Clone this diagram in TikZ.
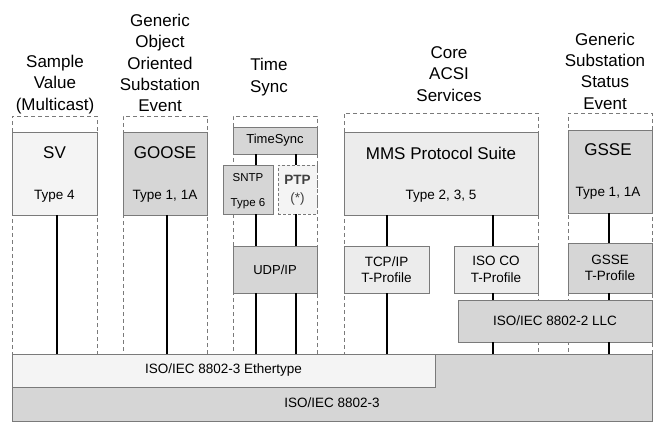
\documentclass[tikz,border=0pt]{standalone}
\usepackage{fontspec}
\setmainfont{Liberation Sans}
\usetikzlibrary{positioning}
\definecolor{darkfill}{HTML}{D6D6D6}
\definecolor{midfill}{HTML}{ECECEC}
\definecolor{palefill}{HTML}{F4F4F4}
\definecolor{edge}{HTML}{7A7A7A}

\begin{document}
\begin{tikzpicture}[x=1pt, y=-1pt,
  box/.style={draw=edge, line width=0.9pt, inner sep=0pt, align=center},
  column/.style={draw=edge, dashed, dash pattern=on 4pt off 3pt, line width=0.8pt, inner sep=0pt},
  head/.style={align=center, font=\fontsize{17}{21.3}\selectfont},
  big/.style={font=\fontsize{17}{20}\selectfont},
  small/.style={font=\fontsize{13.5}{16.5}\selectfont},
  tiny/.style={font=\fontsize{11.5}{13}\selectfont},
  wire/.style={line width=2pt, black}]
\useasboundingbox (0,0) rectangle (655,421);
% dashed columns
\node[column, minimum width=85pt, minimum height=238pt] (colsv) at (54.5,235) {};
\node[column, minimum width=84pt, minimum height=238pt] (colgoose) at (165,235) {};
\node[column, minimum width=84pt, minimum height=238pt] (coltime) at (275,235) {};
\node[column, minimum width=194pt, minimum height=241pt] (colacsi) at (441,233.5) {};
\node[column, minimum width=84pt, minimum height=241pt] (colgsse) at (610,233.5) {};
% headings
\node[head] (hsv) at (55,84.5) {Sample\\Value\\(Multicast)};
\node[head] (hgoose) at (160,63) {Generic\\Object\\Oriented\\Substation\\Event};
\node[head] (htime) at (269,77) {Time\\Sync};
\node[head] (hacsi) at (449,74) {Core\\ACSI\\Services};
\node[head] (hgsse) at (605,71) {Generic\\Substation\\Status\\Event};
% link layer
\node[box, fill=darkfill, minimum width=640pt, minimum height=67pt] (mac) at (332,387.5) {};
\node[small] at (332,403) {ISO/IEC 8802-3};
\node[box, fill=palefill, minimum width=423pt, minimum height=33pt, small] (eth) at (223.5,370.5) {ISO/IEC 8802-3 Ethertype};
\node[box, fill=darkfill, minimum width=194pt, minimum height=42pt, small] (llc) at (555,321) {ISO/IEC 8802-2 LLC};
% application boxes
\node[box, fill=palefill, minimum width=85pt, minimum height=83pt] (sv) at (54.5,173.5) {};
\node[big] at (54.5,153) {SV};
\node[small] at (54.5,196) {Type 4};
\node[box, fill=darkfill, minimum width=84pt, minimum height=83pt] (goose) at (165,173.5) {};
\node[big] at (165,153) {GOOSE};
\node[small] at (165,196) {Type 1, 1A};
\node[box, fill=midfill, minimum width=194pt, minimum height=83pt] (mms) at (441,173.5) {};
\node[big] at (441,153) {MMS Protocol Suite};
\node[small] at (441,196) {Type 2, 3, 5};
\node[box, fill=darkfill, minimum width=84pt, minimum height=83pt] (gsse) at (610,171.5) {};
\node[big] at (608,150) {GSSE};
\node[small] at (608,193) {Type 1, 1A};
% time sync stack
\node[box, fill=darkfill, minimum width=84pt, minimum height=27pt, font=\fontsize{13}{15}\selectfont] (tsync) at (275,140.5) {TimeSync};
\node[box, fill=darkfill, minimum width=50pt, minimum height=49pt] (sntp) at (248,189.5) {};
\node[tiny] at (248,178) {SNTP};
\node[tiny] at (248,204) {Type 6};
\node[box, fill=palefill, dashed, dash pattern=on 3pt off 2pt, minimum width=39pt, minimum height=49pt] (ptp) at (297.5,189.5) {};
\node[font=\fontsize{13.5}{15}\selectfont\bfseries, text=black!75] at (297.5,180) {PTP};
\node[small, text=black!75] at (297.5,199) {(*)};
\node[box, fill=darkfill, minimum width=84pt, minimum height=47pt, font=\fontsize{13}{15}\selectfont] (udp) at (275,269.5) {UDP/IP};
% transport profiles
\node[box, fill=midfill, minimum width=85pt, minimum height=47pt, small] (tcp) at (386.5,269.5) {TCP/IP\\T-Profile};
\node[box, fill=midfill, minimum width=84pt, minimum height=47pt, small] (isoco) at (496,269.5) {ISO CO\\T-Profile};
\node[box, fill=darkfill, minimum width=84pt, minimum height=50pt, small] (gsset) at (610,268) {GSSE\\T-Profile};
% wires
\draw[wire] ([xshift=2.5pt]sv.south) -- ([xshift=2.5pt]sv.south |- eth.north);
\draw[wire] ([xshift=2pt]goose.south) -- ([xshift=2pt]goose.south |- eth.north);
\draw[wire] ([xshift=8pt]sntp.north) -- ([xshift=8pt]sntp.north |- tsync.south);
\draw[wire] ([xshift=8pt]sntp.south) -- ([xshift=8pt]sntp.south |- udp.north);
\draw[wire] ([xshift=-19pt]udp.south) -- ([xshift=-19pt]udp.south |- eth.north);
\draw[wire] ([xshift=-1.5pt]ptp.north) -- ([xshift=-1.5pt]ptp.north |- tsync.south);
\draw[wire] ([xshift=-1.5pt]ptp.south) -- ([xshift=-1.5pt]ptp.south |- udp.north);
\draw[wire] ([xshift=21pt]udp.south) -- ([xshift=21pt]udp.south |- eth.north);
\draw[wire] (tcp.north) -- (tcp.north |- mms.south);
\draw[wire] (tcp.south) -- (tcp.south |- eth.north);
\draw[wire] ([xshift=-3pt]isoco.north) -- ([xshift=-3pt]isoco.north |- mms.south);
\draw[wire] ([xshift=-3pt]isoco.south) -- ([xshift=-3pt]isoco.south |- llc.north);
\draw[wire] ([xshift=-3pt]isoco.south |- llc.south) -- ([xshift=-3pt]isoco.south |- mac.north);
\draw[wire] ([xshift=-1pt]gsset.north) -- ([xshift=-1pt]gsset.north |- gsse.south);
\draw[wire] ([xshift=-1pt]gsset.south) -- ([xshift=-1pt]gsset.south |- llc.north);
\draw[wire] ([xshift=-1pt]gsset.south |- llc.south) -- ([xshift=-1pt]gsset.south |- mac.north);
\end{tikzpicture}
\end{document}
